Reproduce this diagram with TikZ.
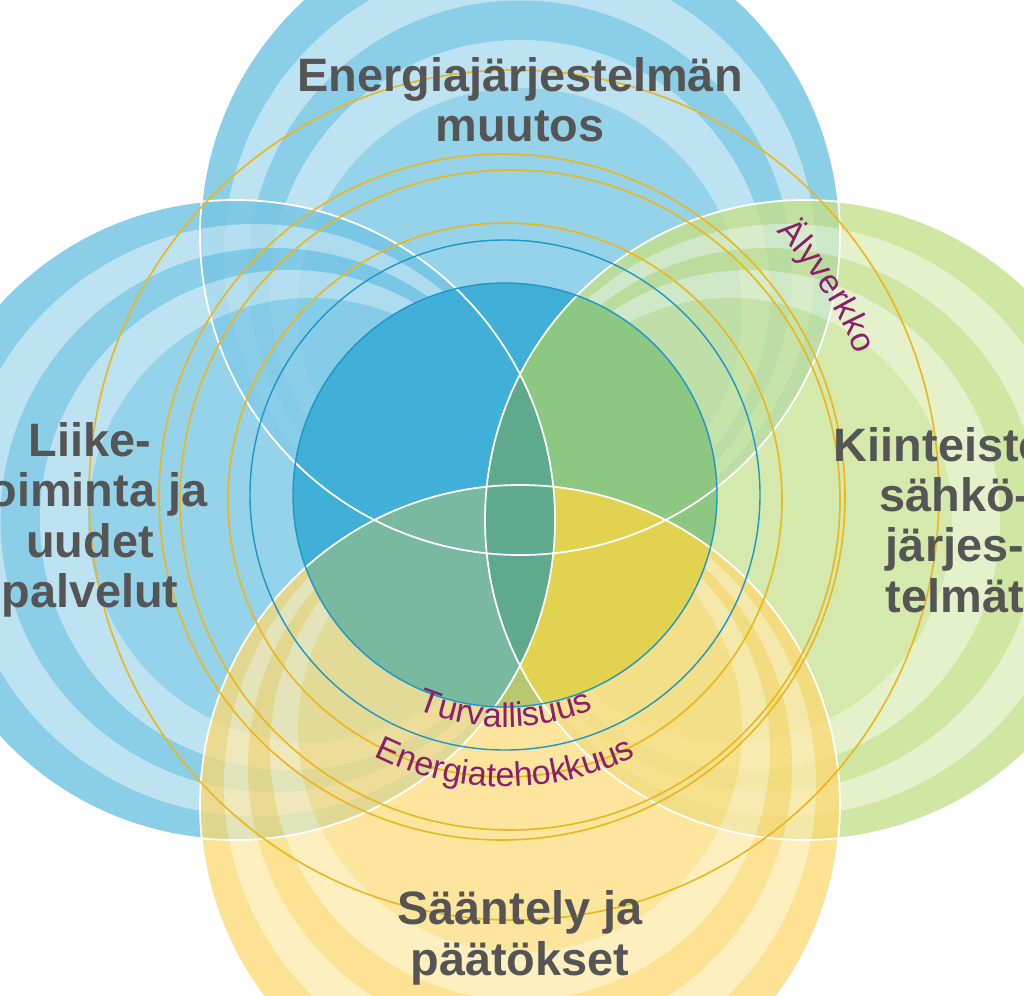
\documentclass[tikz,border=0pt]{standalone}
\usepackage{fontspec}
\setmainfont{Liberation Sans}
\usetikzlibrary{decorations.text}
\definecolor{blueDark}{RGB}{118,198,228}
\definecolor{blueLight}{RGB}{178,222,240}
\definecolor{greenDark}{RGB}{196,224,140}
\definecolor{greenLight}{RGB}{222,238,190}
\definecolor{yellowDark}{RGB}{252,216,112}
\definecolor{yellowLight}{RGB}{255,234,170}
\definecolor{coreBlue}{RGB}{64,176,216}
\definecolor{coreGreen}{RGB}{140,200,130}
\definecolor{coreTeal}{RGB}{120,185,160}
\definecolor{coreYellow}{RGB}{225,210,80}
\definecolor{coreMid}{RGB}{95,170,140}
\definecolor{ringOrange}{RGB}{236,182,30}
\definecolor{ringBlue}{RGB}{30,150,200}
\definecolor{themePurple}{RGB}{140,30,110}
\definecolor{titleGray}{RGB}{85,85,85}
\newcommand{\bandcircle}[5]{% center x, y, dx, dy, colour prefix
  \fill[#5Dark] (#1,#2) circle[radius=320];
  \fill[#5Light] (#1+0.08*#3,#2+0.08*#4) circle[radius=296];
  \fill[#5Dark] (#1+0.15*#3,#2+0.15*#4) circle[radius=272];
  \fill[#5Light] (#1+0.22*#3,#2+0.22*#4) circle[radius=250];
  \fill[#5Dark!80!#5Light] (#1+0.3*#3,#2+0.3*#4) circle[radius=222];
}
\begin{document}
\begin{tikzpicture}[x=0.03cm,y=0.03cm,
    title/.style={font=\fontsize{40}{43}\selectfont\bfseries, text=titleGray, align=center},
    theme/.style={decorate, decoration={text along path, text align=center,
        text={|\fontsize{29}{31}\selectfont\color{themePurple}|#1}}},
    ring/.style={draw=ringOrange, line width=1.4pt},
    inner/.style={draw=ringBlue, line width=1.2pt},
  ]
  \useasboundingbox (0,0) rectangle (1024,-995);
  \clip (0,0) rectangle (1024,-995);

  % big circles
  \begin{scope}[transparency group, opacity=0.85]
    \bandcircle{520}{-235}{0}{-250}{blue}
  \end{scope}
  \begin{scope}[transparency group, opacity=0.85]
    \bandcircle{235}{-520}{250}{0}{blue}
  \end{scope}
  \begin{scope}[transparency group, opacity=0.8]
    \bandcircle{805}{-520}{-250}{0}{green}
  \end{scope}
  \begin{scope}[transparency group, opacity=0.75]
    \bandcircle{520}{-805}{0}{250}{yellow}
  \end{scope}

  % core
  \begin{scope}
    \clip (505,-495) circle[radius=212];
    \fill[coreBlue] (505,-495) circle[radius=212];
    \fill[coreGreen] (805,-520) circle[radius=320];
    \begin{scope}
      \clip (520,-805) circle[radius=320];
      \fill[coreYellow!60!coreTeal] (505,-495) circle[radius=212];
      \fill[coreTeal] (235,-520) circle[radius=320];
      \fill[coreYellow] (805,-520) circle[radius=320];
    \end{scope}
    \clip (235,-520) circle[radius=320];
    \fill[coreMid] (805,-520) circle[radius=320];
  \end{scope}

  % outlines
  \foreach \cx/\cy in {520/-235, 235/-520, 805/-520, 520/-805}
    \draw[white, line width=1.5pt] (\cx,\cy) circle[radius=320];
  \draw[inner] (505,-495) circle[radius=212];
  \draw[inner] (505,-495) circle[radius=255];
  \draw[ring] (505,-500) circle[radius=277];
  \draw[ring] (510,-500) circle[radius=330];
  \draw[ring] (502,-497) circle[radius=343];
  \draw[ring] (514,-495) circle[radius=425];

  % titles
  \node[title] (top) at (520,-100) {Energiajärjestelmän\\muutos};
  \node[title] (left) at (90,-520) {Liike-\\toiminta ja\\uudet\\palvelut};
  \node[title] (right) at (955,-520) {Kiinteistön\\sähkö-\\järjes-\\telmät};
  \node[title] (bottom) at (520,-938) {Sääntely ja\\päätökset};

  % themes along rings
  \path[theme={Turvallisuus}] (505,-495) ++(-125:232) arc[start angle=-125, end angle=-55, radius=232];
  \path[theme={Energiatehokkuus}] (505,-495) ++(-132:292) arc[start angle=-132, end angle=-48, radius=292];
  \path[theme={Älyverkko}] (505,-495) ++(50:378) arc[start angle=50, end angle=16, radius=378];
\end{tikzpicture}
\end{document}
